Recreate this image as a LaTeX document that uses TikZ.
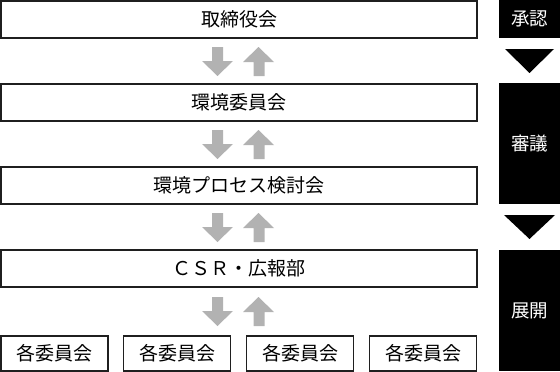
\documentclass[tikz,border=0pt]{standalone}
\usepackage{fontspec}
\setmainfont{Noto Sans CJK JP}
\begin{document}
\begin{tikzpicture}[x=1pt,y=-1pt,
  wbox/.style={draw=black!88,line width=1.4pt,fill=white,inner sep=0pt,font=\fontsize{19}{22}\selectfont},
  bbox/.style={fill=black,text=white,inner sep=0pt,font=\fontsize{18.5}{22}\selectfont},
  garrow/.style={fill=black!30,draw=none}]
\useasboundingbox (0,0) rectangle (560,372);
% main boxes
\node[wbox,minimum width=476pt,minimum height=37pt] (b1) at (239,19.5) {取締役会};
\node[wbox,minimum width=476pt,minimum height=37pt] (b2) at (239,102.5) {環境委員会};
\node[wbox,minimum width=476pt,minimum height=37pt] (b3) at (239,185.5) {環境プロセス検討会};
\node[wbox,minimum width=476pt,minimum height=37pt] (b4) at (239,268.5) {ＣＳＲ・広報部};
\foreach \i/\cx in {1/54.5,2/177,3/300,4/423}{
  \node[wbox,minimum width=107pt,minimum height=35pt] (c\i) at (\cx,353.5) {各委員会};
}
% side boxes
\node[bbox,minimum width=61pt,minimum height=38pt] (s1) at (529.5,19) {承認};
\node[bbox,minimum width=61pt,minimum height=121pt] (s2) at (529.5,143.5) {審議};
\node[bbox,minimum width=61pt,minimum height=121pt] (s3) at (529.5,310.5) {展開};
\fill (505,49) -- (554,49) -- (529.5,73) -- cycle;
\fill (504,215) -- (555,215) -- (529.5,239) -- cycle;
% gray double arrows
\foreach \y in {47,130,213,297}{
  \fill[garrow] (212,\y) -- (223,\y) -- (223,\y+14) -- (233,\y+14) -- (217.5,\y+29) -- (202,\y+14) -- (212,\y+14) -- cycle;
  \fill[garrow] (253.5,\y+29) -- (264.5,\y+29) -- (264.5,\y+15) -- (274,\y+15) -- (258.5,\y) -- (243,\y+15) -- (253.5,\y+15) -- cycle;
}
\end{tikzpicture}
\end{document}
